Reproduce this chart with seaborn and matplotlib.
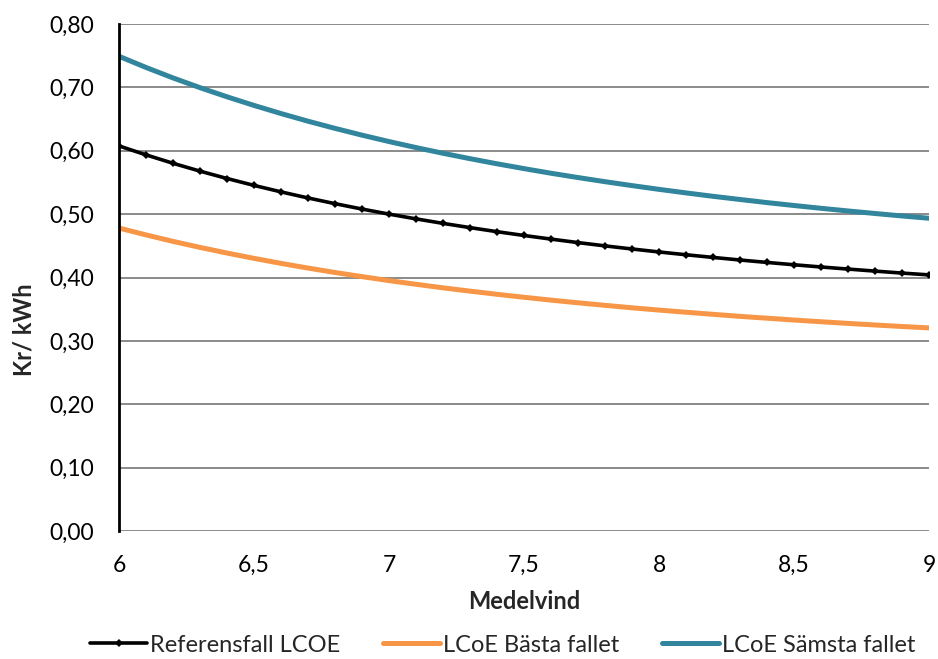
import numpy as np
import pandas as pd
import matplotlib
matplotlib.use("Agg")
import matplotlib.pyplot as plt
import seaborn as sns
from matplotlib.lines import Line2D

medelvind = [6.0, 6.1, 6.2, 6.3, 6.4, 6.5, 6.6, 6.7, 6.8, 6.9, 7.0, 7.1, 7.2, 7.3, 7.4, 7.5,
             7.6, 7.7, 7.8, 7.9, 8.0, 8.1, 8.2, 8.3, 8.4, 8.5, 8.6, 8.7, 8.8, 8.9, 9.0]
referens = [0.6076, 0.5935, 0.5802, 0.5678, 0.5562, 0.5453, 0.5351, 0.5255, 0.5165, 0.5080,
            0.5000, 0.4925, 0.4854, 0.4787, 0.4723, 0.4663, 0.4606, 0.4551, 0.4499, 0.4450,
            0.4403, 0.4359, 0.4317, 0.4276, 0.4238, 0.4201, 0.4166, 0.4133, 0.4101, 0.4070,
            0.4041]
basta = [0.4780, 0.4672, 0.4570, 0.4475, 0.4386, 0.4302, 0.4223, 0.4149, 0.4079, 0.4014,
         0.3951, 0.3893, 0.3837, 0.3785, 0.3735, 0.3688, 0.3643, 0.3601, 0.3561, 0.3522,
         0.3486, 0.3452, 0.3419, 0.3387, 0.3358, 0.3329, 0.3302, 0.3276, 0.3251, 0.3227,
         0.3205]
samsta = [0.7490, 0.7314, 0.7149, 0.6995, 0.6851, 0.6715, 0.6587, 0.6466, 0.6353, 0.6246,
          0.6145, 0.6050, 0.5960, 0.5875, 0.5794, 0.5718, 0.5645, 0.5577, 0.5512, 0.5450,
          0.5391, 0.5335, 0.5281, 0.5231, 0.5182, 0.5136, 0.5092, 0.5050, 0.5010, 0.4971,
          0.4935]
series_names = ["Referensfall LCOE", "LCoE Bästa fallet", "LCoE Sämsta fallet"]
y_ticks = [0.0, 0.1, 0.2, 0.3, 0.4, 0.5, 0.6, 0.7, 0.8]
x_ticks = [6, 6.5, 7, 7.5, 8, 8.5, 9]

sns.set_theme(style="white")
plt.rcParams['font.family'] = ['Lato', 'DejaVu Sans']

df = pd.DataFrame({
    "Medelvind": medelvind * 2,
    "value": basta + samsta,
    "serie": [series_names[1]] * len(medelvind) + [series_names[2]] * len(medelvind),
})

fig = plt.figure(figsize=(9.38, 6.59), dpi=100)
ax = fig.add_axes([0.1269, 0.1942, 0.8635, 0.7694])

palette = {series_names[1]: "#F79646", series_names[2]: "#31859C"}
sns.lineplot(data=df, x="Medelvind", y="value", hue="serie", palette=palette,
             hue_order=[series_names[1], series_names[2]], ax=ax,
             linewidth=3.6, legend=False)
sns.lineplot(x=medelvind, y=referens, color="black", linewidth=2.6, marker="D",
             markersize=4.5, markeredgewidth=0, ax=ax)

ax.set_xlim(6, 9)
ax.set_ylim(0, 0.8)
ax.set_yticks(y_ticks)
ax.set_yticklabels([f"{v:.2f}".replace(".", ",") for v in y_ticks])
ax.set_xticks(x_ticks)
ax.set_xticklabels([f"{v:g}".replace(".", ",") for v in x_ticks])
ax.tick_params(axis="both", labelsize=16.5, length=0, colors="black")
ax.tick_params(axis="y", pad=18)
ax.tick_params(axis="x", pad=17)
ax.yaxis.grid(True, color="#8a8a8a", linewidth=1.4)
ax.set_axisbelow(True)
for s in ["top", "right", "bottom"]:
    ax.spines[s].set_visible(False)
ax.spines["left"].set_color("black")
ax.spines["left"].set_linewidth(2)
ax.set_xlabel("Medelvind", fontsize=17, fontweight="bold", labelpad=10)
ax.set_ylabel("")
fig.text(24 / 938, 1 - 330 / 659, "Kr/ kWh", rotation=90, fontsize=17, fontweight="bold",
         ha="center", va="center")

handles = [
    Line2D([], [], color="black", linewidth=2.6, marker="D", markersize=4.5, markeredgewidth=0),
    Line2D([], [], color="#F79646", linewidth=3.6),
    Line2D([], [], color="#31859C", linewidth=3.6),
]
fig.legend(handles, series_names, loc="center", bbox_to_anchor=(503 / 938, 1 - 645 / 659), ncol=3,
           frameon=False, fontsize=17, handlelength=2.4, handletextpad=0.15, columnspacing=1.8,
           numpoints=1, borderpad=0, borderaxespad=0)

fig.savefig("out.png", dpi=100)
